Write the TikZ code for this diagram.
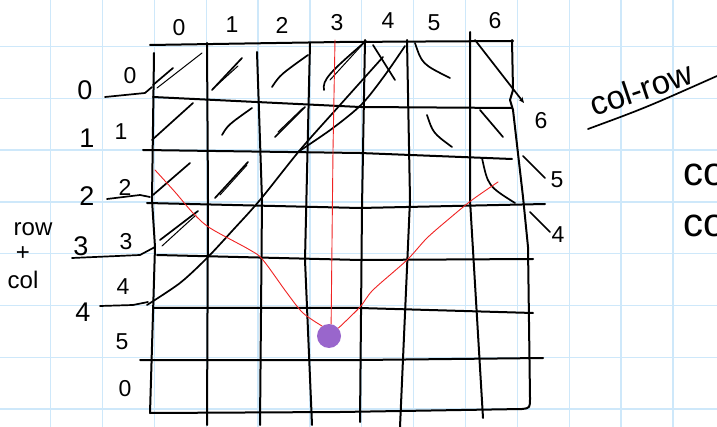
\documentclass[tikz,border=0pt]{standalone}
\usepackage{fontspec}
\setmainfont{Liberation Sans}
\usetikzlibrary{arrows.meta}
\definecolor{paperblue}{RGB}{206,232,250}
\definecolor{dotpurple}{RGB}{153,102,204}
\definecolor{inkred}{RGB}{240,35,35}

\begin{document}
\begin{tikzpicture}[x=1pt, y=-1pt, line cap=round, line join=round, >=Stealth,
    ink/.style={line width=2pt},
    slash/.style={line width=1.7pt},
    hair/.style={line width=1pt},
    redink/.style={inkred, line width=0.9pt},
    num/.style={font=\fontsize{23}{25}\selectfont, inner sep=0pt},
    bignum/.style={font=\fontsize{27}{29}\selectfont, inner sep=0pt},
    word/.style={font=\fontsize{24}{26}\selectfont, inner sep=0pt}]

  % 1. paper
  \useasboundingbox (0,0) rectangle (717,427);
  \clip (0,0) rectangle (717,427);
  \fill[white] (0,0) rectangle (717,427);
  \foreach \k in {0,...,13}
    \draw[paperblue, line width=1.3pt] ({50.6+51.86*\k},0) -- ({50.6+51.86*\k},427);
  \foreach \k in {0,...,7}
    \draw[paperblue, line width=1.3pt] (0,{46.5+51.8*\k}) -- (717,{46.5+51.8*\k});

  % 2. table: rows
  \draw[ink] (150,45) -- (340,42) -- (513,41);
  \draw[ink] (153,97) -- (360,107) -- (512,108);
  \draw[ink] (143,150) -- (360,153) -- (512,159);
  \draw[ink] (147,203) -- (360,208) -- (545,204);
  \draw[ink] (157,255) -- (360,260) -- (533,259);
  \draw[ink] (153,308) -- (360,308) -- (533,313);
  \draw[ink] (140,360) -- (360,360) -- (543,358);
  \draw[ink] (150,413) -- (340,412) -- (522,409) .. controls (530,408) .. (530,398);

  % table: columns
  \draw[ink] (154,53) -- (152,200) -- (155,247) -- (150,413);
  \draw[ink] (207,43) -- (208,200) -- (207,425);
  \draw[ink] (257,52) -- (262,200) -- (260,425);
  \draw[ink] (310,43) -- (305,260) -- (312,425);
  \draw[ink] (365,40) -- (362,207) -- (360,422);
  \draw[ink] (407,40) -- (410,200) -- (400,427);
  \draw[ink] (470,32) -- (470,200) -- (483,418);
  \draw[ink] (512,40) -- (513,90) -- (510,100) -- (513,110) -- (523,197) -- (528,247) -- (530,398);

  % 3. row+col marks
  \draw[hair] (157,88) -- (202,53);
  \draw[slash] (153,85) -- (173,68);
  \draw[slash] (212,90) -- (242,58);
  \draw[hair] (216,86) -- (238,66);
  \draw[slash] (272,87) .. controls (280,75) .. (308,55);
  \draw[slash] (324,90) .. controls (322,80) and (330,72) .. (366,41);
  \draw[hair] (330,80) -- (362,45);
  \draw[slash] (152,140) -- (193,103);
  \draw[slash] (222,135) .. controls (228,125) .. (252,108);
  \draw[slash] (275,137) -- (305,107);
  \draw[hair] (278,132) -- (303,108);
  \draw[slash] (153,195) -- (190,163);
  \draw[slash] (215,198) -- (248,162);
  \draw[hair] (220,195) -- (247,165);
  \draw[slash] (160,240) -- (198,211);
  \draw[hair] (162,246) -- (196,215);
  \draw[slash] plot[smooth] coordinates {(147,305) (180,283) (207,258) (233,230) (260,200) (300,150) (340,105) (383,57)};
  \draw[slash] plot[smooth] coordinates {(298,152) (333,128) (362,104) (385,75) (405,46)};

  % 4. col-row marks
  \draw[slash] (373,45) -- (395,80);
  \draw[slash] (415,43) .. controls (422,64) .. (450,78);
  \draw[slash, -{Stealth[length=6pt, width=5pt]}] (475,40) -- (524,103);
  \draw[slash] (427,115) .. controls (433,133) .. (452,147);
  \draw[slash] (480,110) -- (503,137);
  \draw[slash] (482,158) .. controls (488,186) .. (515,203);
  \draw[slash] (523,156) -- (545,178);
  \draw[slash] (530,212) -- (550,232);

  % 5. labels
  \foreach \i/\x/\y in {0/179/28, 1/232/25, 2/282/25, 3/337/23, 4/388/21, 5/434/23, 6/495/21}
    \node[num] (c\i) at (\x,\y) {\i};
  \foreach \i/\t/\x/\y in {0/0/130/76, 1/1/121/132, 2/2/125/187, 3/3/126/242, 4/4/123/287, 5/5/122/342, 6/0/125/389}
    \node[num] (r\i) at (\x,\y) {\t};
  \foreach \i/\x/\y in {0/85/90, 1/87/138, 2/87/196, 3/81/246, 4/83/312}
    \node[bignum] (s\i) at (\x,\y) {\i};
  \foreach \i/\x/\y in {6/541/121, 5/557/180, 4/558/235}
    \node[num] (d\i) at (\x,\y) {\i};

  % leaders under the sums
  \draw[slash] (105,97) -- (145,93) -- (152,87);
  \draw[slash] (107,199) -- (140,195) -- (150,197);
  \draw[slash] (72,258) -- (140,255) -- (155,247);
  \draw[slash] (100,306) -- (133,305) -- (148,302);

  \node[word] (rowtxt) at (33,229) {row};
  \node[word] (plustxt) at (23,254) {+};
  \node[word] (coltxt) at (23,280) {col};

  \node[word, font=\fontsize{33}{35}\selectfont, anchor=base, rotate=18.6] (colrow) at (645,100) {col-row};
  \draw[slash] (588,129) .. controls (645,108) .. (717,76);
  \node[font=\fontsize{40}{42}\selectfont, inner sep=0pt, anchor=base west] (co1) at (683,186) {co};
  \node[font=\fontsize{40}{42}\selectfont, inner sep=0pt, anchor=base west] (co2) at (683,237) {co};

  % 6. red paths to the cell
  \node[circle, fill=dotpurple, minimum size=24pt, inner sep=0pt] (dot) at (329,336) {};
  \coordinate (dl) at (dot.125);
  \coordinate (dt) at (dot.80);
  \coordinate (dr) at (dot.40);
  \draw[redink] (335,40) -- (333,150) -- (dt);
  \draw[redink] plot[smooth] coordinates {(155,170) (175,192) (193,213) (210,228) (250,250) (263,260) (287,293) (303,313) (dl)};
  \draw[redink] plot[smooth] coordinates {(dr) (360,307) (373,290) (407,260) (427,238) (450,218) (472,200) (498,182)};

\end{tikzpicture}
\end{document}
